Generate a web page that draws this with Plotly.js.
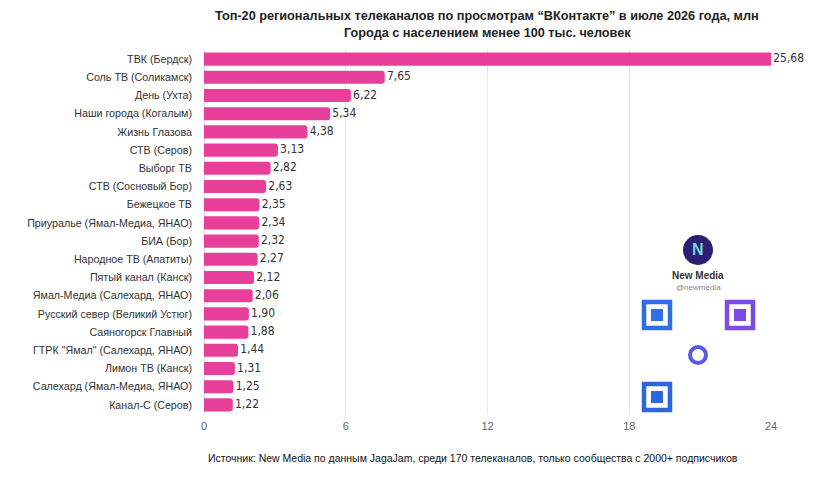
<!DOCTYPE html>
<html><head><meta charset="utf-8">
<script src="https://cdn.plot.ly/plotly-3.0.1.min.js"></script>
<style>html,body{margin:0;padding:0;background:#fff}#c{width:820px;height:480px}</style>
</head><body><div id="c"></div>
<script>
const categories = ["ТВК (Бердск)","Соль ТВ (Соликамск)","День (Ухта)","Наши города (Когалым)","Жизнь Глазова","СТВ (Серов)","Выборг ТВ","СТВ (Сосновый Бор)","Бежецкое ТВ","Приуралье (Ямал-Медиа, ЯНАО)","БИА (Бор)","Народное ТВ (Апатиты)","Пятый канал (Канск)","Ямал-Медиа (Салехард, ЯНАО)","Русский север (Великий Устюг)","Саяногорск Главный","ГТРК \"Ямал\" (Салехард, ЯНАО)","Лимон ТВ (Канск)","Салехард (Ямал-Медиа, ЯНАО)","Канал-С (Серов)"];
const values = [25.68,7.65,6.22,5.34,4.38,3.13,2.82,2.63,2.35,2.34,2.32,2.27,2.12,2.06,1.90,1.88,1.44,1.31,1.25,1.22];
const tickVals = [0,6,12,18,24];
const axisMax = 24;
const titleLines = ['Топ-20 региональных телеканалов по просмотрам “ВКонтакте” в июле 2026 года, млн', 'Города с населением менее 100 тыс. человек'];
const sourceText = 'Источник: New Media по данным JagaJam, среди 170 телеканалов, только сообщества с 2000+ подписчиков';

const narrow = "DejaVu Sans Condensed, Liberation Sans Narrow, sans-serif";
const sans = "Liberation Sans, Arial, Helvetica, sans-serif";
const labels = values.map(v => v.toFixed(2).replace('.', ','));

const bars = {
  type:'bar', orientation:'h', x: values, y: categories,
  marker:{color:'#E8409A'}, textposition:'none', hoverinfo:'none'
};
const txt = {
  type:'scatter', mode:'text', x: values.map(v => Math.min(v, axisMax)), y: categories,
  text: labels.map(t => '\u2009' + t), textposition:'middle right', cliponaxis:false,
  textfont:{family:narrow, size:12, color:'#333'}, hoverinfo:'none'
};

// pixel -> paper helpers for decoration / text placement
const L=204, W=567, T=50, H=364;
const px = x => (x-L)/W, py = y => (T+H-y)/H;
const shapes = [];
function finder(x,y,col){
  shapes.push({type:'rect',xref:'paper',yref:'paper',x0:px(x+2),x1:px(x+28),y0:py(y+2),y1:py(y+28),line:{color:col,width:4.5},fillcolor:'rgba(0,0,0,0)'});
  shapes.push({type:'rect',xref:'paper',yref:'paper',x0:px(x+9),x1:px(x+21),y0:py(y+9),y1:py(y+21),line:{width:0},fillcolor:col});
}
finder(642,300,'#2E6FE6');
finder(725,300,'#7C4BE4');
finder(642,382,'#2C66DF');
shapes.push({type:'circle',xref:'paper',yref:'paper',x0:px(683),x1:px(713),y0:py(235),y1:py(265),line:{width:0},fillcolor:'#2B1E73'});
shapes.push({type:'circle',xref:'paper',yref:'paper',x0:px(690),x1:px(706),y0:py(347),y1:py(363),line:{color:'#5B5AE6',width:4},fillcolor:'rgba(0,0,0,0)'});

const titleFont = {family:sans, size:12.7, color:'#222', weight:'bold'};
const layout = {
  width:820, height:480,
  margin:{l:204, r:49, t:50, b:66},
  paper_bgcolor:'#fff', plot_bgcolor:'#fff',
  showlegend:false, bargap:0.28, barcornerradius:3,
  xaxis:{range:[0,axisMax], tickvals:tickVals, ticktext:tickVals.map(String), showgrid:true, gridcolor:'#e6e6e6', gridwidth:1,
    zeroline:true, zerolinecolor:'#d9d9d9', zerolinewidth:1, showline:false, ticks:'', ticklabelstandoff:4,
    tickfont:{family:sans, size:11, color:'#666'}, fixedrange:true},
  yaxis:{range:[19.5,-0.5], type:'category', ticks:'', ticklabelstandoff:11, showgrid:false, zeroline:false,
    tickfont:{family:sans, size:10.7, color:'#333'}},
  shapes: shapes,
  annotations:[
    {text:titleLines[0], xref:'paper', yref:'paper', x:px(487), y:py(16), xanchor:'center', yanchor:'middle', showarrow:false, font:titleFont},
    {text:titleLines[1], xref:'paper', yref:'paper', x:px(487), y:py(33), xanchor:'center', yanchor:'middle', showarrow:false, font:titleFont},
    {text:sourceText, xref:'paper', yref:'paper', x:px(473), y:py(458), xanchor:'center', yanchor:'middle', showarrow:false, font:{family:sans, size:10.5, color:'#111'}},
    {text:'<b>New Media</b>', xref:'paper', yref:'paper', x:px(698), y:py(275), xanchor:'center', yanchor:'middle', showarrow:false, font:{family:sans, size:10, color:'#333'}},
    {text:'@newmedia', xref:'paper', yref:'paper', x:px(698), y:py(287), xanchor:'center', yanchor:'middle', showarrow:false, font:{family:sans, size:8, color:'#888'}},
    {text:'<b>N</b>', xref:'paper', yref:'paper', x:px(698), y:py(249), xanchor:'center', yanchor:'middle', showarrow:false, font:{family:sans, size:16, color:'#7ED3D8'}}
  ]
};
Plotly.newPlot('c',[bars, txt],layout,{displayModeBar:false, staticPlot:true});
</script></body></html>
